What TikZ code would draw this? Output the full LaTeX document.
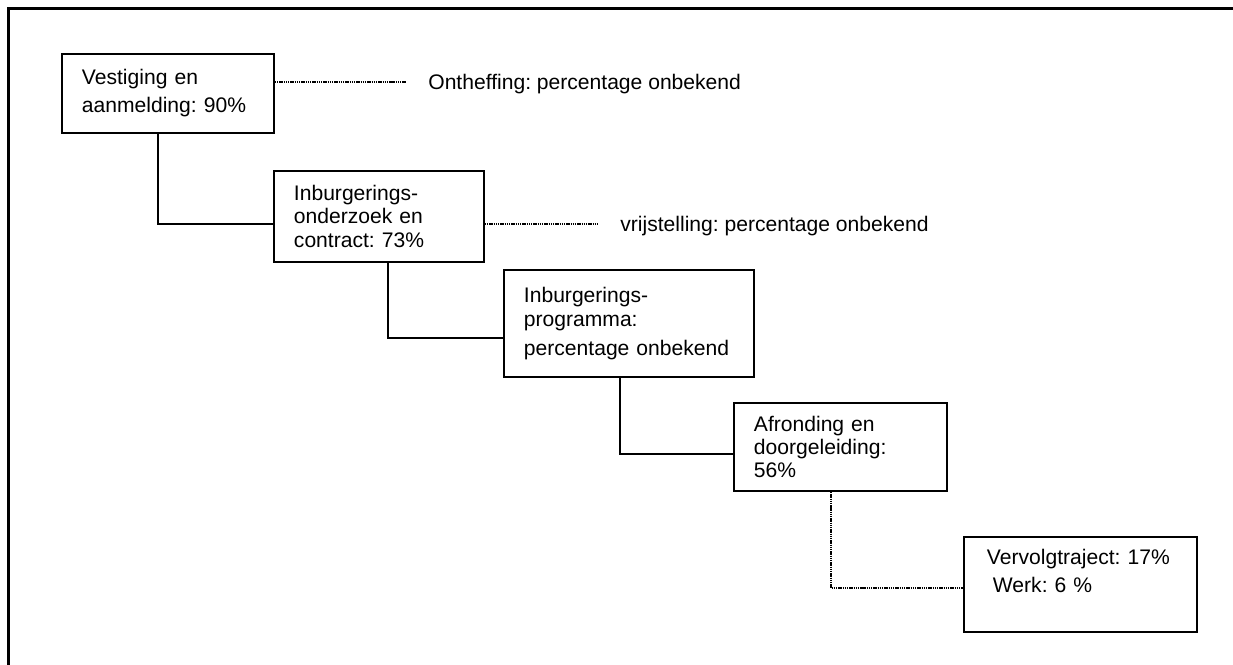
\documentclass[tikz,border=0pt]{standalone}
\usepackage{fontspec}
\setmainfont{Liberation Sans}
\frenchspacing
\usetikzlibrary{calc}
\tikzset{stage/.style = {draw,line width=1.1pt,anchor=north west,align=left,inner xsep=0.4cm,inner ysep=0pt,font=\fontsize{12}{13.2}\selectfont}}
\tikzset{link/.style = {line width=1.1pt}}
\tikzset{dots/.style = {dash pattern=on 0.8pt off 0.45pt,line width=0.9pt}}
\tikzset{note/.style = {anchor=base west,inner xsep=0.44cm,font=\fontsize{12}{14}\selectfont}}

\begin{document}
\begin{tikzpicture}[x=0.02cm,y=-0.02cm]
    \useasboundingbox (0,0) rectangle (1233,665);
    \draw [line width=1.7pt] (8.7,665) -- (8.7,8.7) -- (1233,8.7);

    % stages
    \node [stage,text width=3.44cm,minimum height=1.58cm,font=\fontsize{12}{15.9}\selectfont] (b1) at (61,53) {Vestiging en\\aanmelding: 90\%};
    \node [stage,text width=3.4cm,minimum height=1.82cm] (b2) at (273,170) {Inburgerings-\\onderzoek en\\contract: 73\%};
    \node [stage,text width=4.2cm,minimum height=2.14cm,font=\fontsize{12}{14.2}\selectfont] (b3) at (503,269) {Inburgerings-\\programma:\\[2.2pt]percentage onbekend};
    \node [stage,text width=3.46cm,minimum height=1.76cm] (b4) at (733,402) {Afronding en\\doorgeleiding:\\56\%};
    \node [stage,text width=3.74cm,minimum height=1.9cm,inner xsep=0.46cm,font=\fontsize{12}{15.9}\selectfont] (b5) at (963,536) {Vervolgtraject: 17\%\\\hspace*{0.12cm}Werk: 6 \%\\\mbox{}};

    % side notes
    \node [note] (o1) at (406,90) {Ontheffing: percentage onbekend};
    \node [note] (o2) at (598,232) {vrijstelling: percentage onbekend};

    \coordinate (d1) at ($(b1.east)+(0,-11.5)$);
    \coordinate (d2) at ($(b2.east)+(0,7.5)$);
    \draw [dots] (d1) -- (d1 -| o1.west);
    \draw [dots] (d2) -- (d2 -| o2.west);

    % steps
    \draw [link] ($(b1.south)+(-10,0)$) |- ($(b2.west)+(0,7.5)$);
    \draw [link] ($(b2.south)+(9,0)$) |- ($(b3.west)+(0,14.5)$);
    \draw [link] ($(b3.south)+(-9,0)$) |- ($(b4.west)+(0,7)$);
    \draw [dots] ($(b4.south)+(-9.5,0)$) |- ($(b5.west)+(0,3.5)$);
\end{tikzpicture}
\end{document}
